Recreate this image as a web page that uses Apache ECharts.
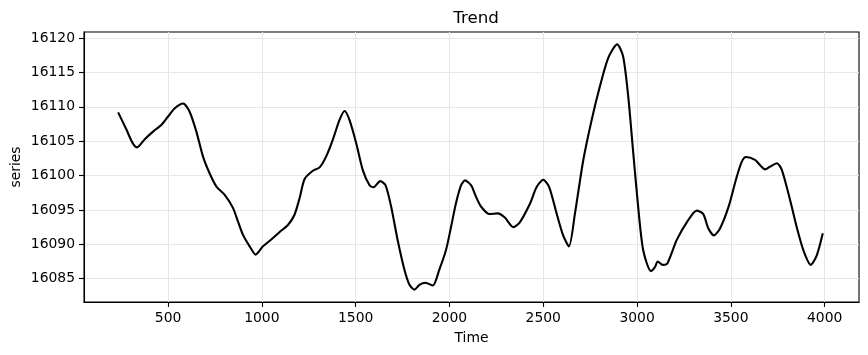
<!DOCTYPE html>
<html>
<head>
<meta charset="utf-8">
<script src="https://cdn.jsdelivr.net/npm/echarts@6/dist/echarts.min.js"></script>
<style>
html,body{margin:0;padding:0;background:#fff;}
#chart{width:868px;height:355px;}
</style>
</head>
<body>
<div id="chart"></div>
<script>
const timeValues = [234, 278, 310, 335, 376, 420, 465, 500, 536, 580, 615, 651, 686, 722, 758, 802, 846, 873, 899, 935, 967, 1006, 1050, 1095, 1139, 1174, 1201, 1228, 1272, 1308, 1343, 1378, 1414, 1441, 1467, 1503, 1538, 1574, 1595, 1631, 1659, 1689, 1724, 1760, 1787, 1813, 1840, 1872, 1911, 1946, 1982, 2009, 2035, 2062, 2083, 2115, 2142, 2168, 2213, 2257, 2295, 2340, 2375, 2429, 2464, 2500, 2532, 2571, 2606, 2637, 2669, 2713, 2758, 2802, 2846, 2894, 2926, 2953, 2980, 3006, 3033, 3074, 3096, 3110, 3137, 3161, 3211, 3265, 3318, 3353, 3380, 3410, 3442, 3487, 3531, 3558, 3581, 3629, 3656, 3682, 3709, 3745, 3772, 3816, 3851, 3887, 3926, 3958, 3990];
const seriesValues = [16109.2, 16106.7, 16104.8, 16104.1, 16105.3, 16106.4, 16107.4, 16108.6, 16109.8, 16110.5, 16109.3, 16106.4, 16102.8, 16100.3, 16098.4, 16097.2, 16095.3, 16093.3, 16091.4, 16089.7, 16088.5, 16089.7, 16090.7, 16091.8, 16092.8, 16094.3, 16096.7, 16099.5, 16100.7, 16101.2, 16102.8, 16105.2, 16108.1, 16109.4, 16108.1, 16104.7, 16100.8, 16098.6, 16098.3, 16099.2, 16098.6, 16095.5, 16090.6, 16086.3, 16084.1, 16083.4, 16084.1, 16084.4, 16084.0, 16086.3, 16089.2, 16092.6, 16096.0, 16098.6, 16099.3, 16098.6, 16096.9, 16095.5, 16094.4, 16094.5, 16093.9, 16092.5, 16093.2, 16095.9, 16098.3, 16099.4, 16098.3, 16094.5, 16091.3, 16089.7, 16094.5, 16102.2, 16108.1, 16113.0, 16117.1, 16119.1, 16117.3, 16111.5, 16103.2, 16095.4, 16089.1, 16086.1, 16086.7, 16087.5, 16087.0, 16087.2, 16090.6, 16093.2, 16094.9, 16094.4, 16092.3, 16091.3, 16092.3, 16095.4, 16099.8, 16102.0, 16102.7, 16102.3, 16101.5, 16100.9, 16101.3, 16101.8, 16100.8, 16096.4, 16092.5, 16089.1, 16087.0, 16088.4, 16091.6];
const xTicks = [500, 1000, 1500, 2000, 2500, 3000, 3500, 4000];
const yTicks = [16085, 16090, 16095, 16100, 16105, 16110, 16115, 16120];

const data = timeValues.map((t, i) => [t, seriesValues[i]]);
const font = 'DejaVu Sans';
const chart = echarts.init(document.getElementById('chart'), null, {renderer: 'canvas'});
chart.setOption({
  animation: false,
  backgroundColor: '#fff',
  title: {
    text: 'Trend', left: 471, top: 5, textAlign: 'center',
    textStyle: {fontFamily: font, fontSize: 16.7, fontWeight: 'normal', color: '#000'}
  },
  grid: {left: 84, right: 9, top: 32, bottom: 53, containLabel: false, outerBoundsMode: 'none', show: true, borderColor: '#000', borderWidth: 1.1, backgroundColor: 'transparent'},
  xAxis: {
    type: 'value', min: 52, max: 4183,
    name: 'Time', nameLocation: 'middle', nameGap: 29, nameMoveOverlap: false,
    nameTextStyle: {fontFamily: font, fontSize: 13.9, color: '#000'},
    axisLine: {show: true, lineStyle: {color: '#000', width: 1.1}},
    axisTick: {show: true, length: 5, customValues: xTicks, lineStyle: {color: '#000', width: 1.1}},
    axisLabel: {customValues: xTicks, margin: 9, fontFamily: font, fontSize: 13.9, color: '#000', formatter: v => String(v)},
    splitLine: {show: true, lineStyle: {color: '#e6e6e6', width: 1}}
  },
  yAxis: {
    type: 'value', min: 16081.6, max: 16120.9,
    name: 'series', nameLocation: 'middle', nameGap: 61, nameRotate: 90, nameMoveOverlap: false,
    nameTextStyle: {fontFamily: font, fontSize: 13.9, color: '#000'},
    axisLine: {show: true, lineStyle: {color: '#000', width: 1.1}},
    axisTick: {show: true, length: 5, customValues: yTicks, lineStyle: {color: '#000', width: 1.1}},
    axisLabel: {customValues: yTicks, margin: 9, fontFamily: font, fontSize: 13.9, color: '#000', formatter: v => String(v)},
    splitLine: {show: true, lineStyle: {color: '#e6e6e6', width: 1}}
  },
  series: [{
    type: 'line', data: data, showSymbol: false, smooth: 0.25,
    lineStyle: {color: '#000', width: 2.1}
  }]
});
</script>
</body>
</html>
